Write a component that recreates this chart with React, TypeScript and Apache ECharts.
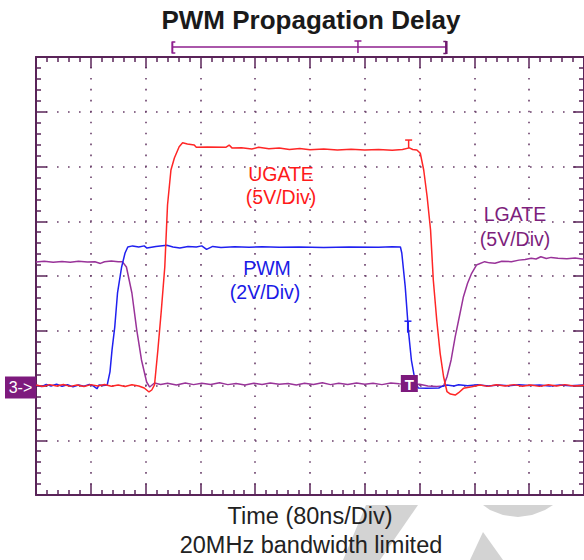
import React, { useEffect, useRef } from "react";
import * as echarts from "echarts";

// ---- Scope settings ----
const TIME_MIN_NS = 0;
const TIME_MAX_NS = 800; // 10 div x 80ns
const TIME_DIV_NS = 80;
const DIV_COUNT = 8;
const GROUND_DIV = 2; // channel ground marker "3->"

const PWM_V_PER_DIV = 2;
const UGATE_V_PER_DIV = 5;
const LGATE_V_PER_DIV = 5;

// ---- Traces: [time ns, volts] ----
const pwmData: [number, number][] = [
  [0, 0.02], [8, -0.04], [15, 0.04], [22, -0.02], [30, 0.05], [38, -0.03], [46, 0.03], [54, -0.05],
  [62, 0.02], [70, -0.03], [78, 0.04], [84, -0.02], [89, -0.12], [92, 0.02], [98, 0.0], [104, 0.02],
  [108, 0.5], [111, 1.3], [115, 2.14], [119, 3.38], [125, 4.33], [130, 4.84], [134, 5.06], [141, 5.1],
  [150, 5.06], [158, 5.1], [162, 5.02], [175, 5.08], [191, 5.12], [200, 5.06], [210, 5.02], [222, 5.08],
  [234, 5.06], [242, 5.1], [249, 4.97], [258, 5.08], [270, 5.04], [290, 5.07], [311, 5.05], [330, 5.07],
  [355, 5.05], [384, 5.06], [420, 5.04], [457, 5.06], [500, 5.05], [520, 5.07], [532, 5.06], [534, 4.84],
  [539, 3.61], [544, 1.92], [548, 0.93], [554, 0.09], [558, -0.09], [570, -0.1], [588, -0.09], [592, -0.04],
  [600, 0.02], [610, -0.02], [617, 0.03], [630, -0.01], [645, 0.03], [660, -0.02], [675, 0.02], [690, -0.01],
  [705, 0.03], [720, 0], [735, 0.02], [750, -0.02], [765, 0.02], [780, -0.01], [800, 0.02],
];

const ugateData: [number, number][] = [
  [0, 0.05], [10, -0.1], [20, 0.08], [30, -0.05], [40, 0.1], [50, -0.08], [60, 0.05], [70, -0.1],
  [80, 0.08], [90, -0.05], [100, 0.1], [110, -0.06], [120, 0.05], [130, -0.1], [140, 0.06], [150, -0.05],
  [158, -0.23], [165, -0.59], [169, -0.41], [173, 0.05], [178, 3.29], [183, 6.89], [188, 10.82], [192, 16.48],
  [197, 19.68], [202, 20.78], [209, 21.81], [214, 22.17], [221, 22.05], [231, 21.96], [234, 21.75], [250, 21.78],
  [277, 21.75], [282, 21.96], [286, 21.7], [300, 21.72], [315, 21.6], [325, 21.75], [340, 21.62], [355, 21.7],
  [370, 21.55], [385, 21.65], [400, 21.52], [420, 21.6], [440, 21.5], [460, 21.58], [480, 21.5], [500, 21.55],
  [520, 21.48], [535, 21.55], [545, 21.7], [550, 21.55], [556, 21.51], [561, 21.21], [566, 19.68], [571, 17.24],
  [576, 14.2], [580, 9.63], [585, 5.98], [590, 2.94], [595, 0.8], [600, -0.57], [605, -0.78], [612, -0.87],
  [617, -0.66], [624, -0.26], [636, -0.11], [648, 0.05], [660, -0.08], [672, 0.06], [685, -0.05], [698, 0.08],
  [710, -0.06], [722, 0.05], [735, -0.08], [748, 0.06], [760, -0.05], [772, 0.08], [785, -0.05], [800, 0.03],
];

const lgateData: [number, number][] = [
  [0, 11.28], [12, 11.35], [25, 11.25], [38, 11.32], [50, 11.26], [62, 11.34], [75, 11.27], [86, 11.3],
  [94, 11.15], [100, 11.3], [110, 11.36], [120, 11.3], [126, 11.31], [132, 10.82], [140, 8.45], [147, 5.11],
  [154, 2.33], [161.5, 0.32], [166, -0.14], [173, 0.23], [182, 0.1], [192, 0.2], [205, 0.05], [218, 0.22],
  [230, 0.08], [242, 0.2], [255, 0.1], [268, 0.25], [280, 0.08], [292, 0.18], [305, 0.05], [318, 0.2],
  [330, 0.1], [342, 0.22], [355, 0.12], [368, 0.18], [380, 0.05], [392, 0.2], [405, 0.1], [418, 0.25],
  [430, 0.08], [442, 0.2], [455, 0.1], [468, 0.22], [480, 0.12], [492, 0.2], [505, 0.08], [518, 0.22],
  [530, 0.15], [545, 0.1], [560, 0.12], [572, -0.05], [585, -0.08], [595, -0.04], [600, 0.8], [606, 2.33],
  [612, 4.46], [618, 6.28], [624, 8.11], [630, 9.33], [636, 10.25], [643, 11.0], [655, 11.31], [662, 11.2],
  [670, 11.16], [680, 11.35], [694, 11.31], [705, 11.45], [714, 11.5], [723, 11.62], [730, 11.55], [737, 11.76],
  [745, 11.6], [752, 11.7], [762, 11.62], [775, 11.58], [787, 11.65], [800, 11.53],
];

// cursor / marker times (ns)
const recordBracketTimes = [199, 470, 599]; // "[" , "T", "]"
const triggerTimeNs = 545;
const ugateCursorTimeNs = 544;
const pwmCursorTimeNs = 543;

// ---- Texts ----
const titleText = "PWM Propagation Delay";
const xTitleText = "Time (80ns/Div)";
const noteText = "20MHz bandwidth limited";
const ugateLabel = ["UGATE", "(5V/Div)"];
const pwmLabel = ["PWM", "(2V/Div)"];
const lgateLabel = ["LGATE", "(5V/Div)"];
const groundMarkerText = "3->";

const RED = "#ff2626";
const BLUE = "#2020f0";
const PURPLE = "#993399";
const MARK_PURPLE = "#7d1a7d";
const AXIS = "#5a2459";
const DOT = "#6a3f6a";
const FONT = "'Liberation Sans', Arial, Helvetica, sans-serif";

const toDiv = (pts: [number, number][], vpd: number) => pts.map(([t, v]) => [t, GROUND_DIV + v / vpd]);

function valueAt(pts: [number, number][], t: number) {
  for (let i = 1; i < pts.length; i++) {
    if (pts[i][0] >= t) {
      const [t0, v0] = pts[i - 1];
      const [t1, v1] = pts[i];
      return v0 + ((v1 - v0) * (t - t0)) / (t1 - t0);
    }
  }
  return pts[pts.length - 1][1];
}

const baseAxis = {
  type: "value" as const,
  axisLabel: { show: false },
  axisLine: { show: true, onZero: false, lineStyle: { color: AXIS, width: 2 } },
  axisTick: { show: true, inside: true, length: 11, lineStyle: { color: AXIS, width: 1.5 } },
  minorTick: { show: true, splitNumber: 5, length: 5, lineStyle: { color: AXIS, width: 1.5 } },
  splitLine: { show: false },
};

export default function App() {
  const ref = useRef<HTMLDivElement>(null);
  useEffect(() => {
    document.body.style.margin = "0";
    const chart = echarts.init(ref.current!, null, { renderer: "svg" });
    const xAxisBase = { ...baseAxis, min: TIME_MIN_NS, max: TIME_MAX_NS, interval: TIME_DIV_NS };
    const yAxisBase = { ...baseAxis, min: 0, max: DIV_COUNT, interval: 1 };
    chart.setOption({
      animation: false,
      textStyle: { fontFamily: FONT },
      grid: { left: 36, top: 57, width: 550, height: 438, containLabel: false },
      xAxis: [
        {
          ...xAxisBase,
          position: "bottom",
          splitLine: { show: true, lineStyle: { color: DOT, width: 1.6, type: [1.6, 9.35], dashOffset: 0.8 } },
        },
        { ...xAxisBase, position: "top" },
      ],
      yAxis: [
        {
          ...yAxisBase,
          position: "left",
          splitLine: { show: true, lineStyle: { color: DOT, width: 1.6, type: [1.6, 9.4], dashOffset: 0.8 } },
        },
        { ...yAxisBase, position: "right" },
      ],
      series: [
        {
          type: "line", name: "LGATE", data: toDiv(lgateData, LGATE_V_PER_DIV), showSymbol: false, symbol: "none",
          lineStyle: { color: PURPLE, width: 1.5 }, itemStyle: { color: PURPLE }, silent: true, z: 2,
        },
        {
          type: "line", name: "PWM", data: toDiv(pwmData, PWM_V_PER_DIV), showSymbol: false, symbol: "none",
          lineStyle: { color: BLUE, width: 1.5 }, itemStyle: { color: BLUE }, silent: true, z: 3,
        },
        {
          type: "line", name: "UGATE", data: toDiv(ugateData, UGATE_V_PER_DIV), showSymbol: false, symbol: "none",
          lineStyle: { color: RED, width: 1.5 }, itemStyle: { color: RED }, silent: true, z: 4,
        },
      ],
    });

    const px = (t: number, d: number) => chart.convertToPixel({ seriesIndex: 0 }, [t, d]) as number[];
    const groundY = px(0, GROUND_DIV)[1];
    const [bL, bT, bR] = recordBracketTimes.map((t) => px(t, 0)[0]);
    const trigX = px(triggerTimeNs, 0)[0];
    const redC = px(ugateCursorTimeNs, GROUND_DIV + valueAt(ugateData, ugateCursorTimeNs) / UGATE_V_PER_DIV);
    const blueC = px(pwmCursorTimeNs, GROUND_DIV + valueAt(pwmData, pwmCursorTimeNs) / PWM_V_PER_DIV);

    const ln = (x1: number, y1: number, x2: number, y2: number, stroke: string, w = 1.5, z = 20) => ({
      type: "line", z, shape: { x1, y1, x2, y2 }, style: { stroke, lineWidth: w }, silent: true,
    });
    const txt = (x: number, y: number, text: string, size: number, fill: string, weight = "normal", z = 20) => ({
      type: "text", z, x, y, silent: true,
      style: { text, fontSize: size, fontFamily: FONT, fontWeight: weight, fill, align: "center", verticalAlign: "middle" },
    });
    const WM = "#d3d3d3";
    const graphics: any[] = [
      // watermark fragments
      { type: "polygon", z: 0, silent: true, shape: { points: [[366, 505], [418, 505], [380, 560], [343, 560]] }, style: { fill: WM } },
      { type: "polygon", z: 0, silent: true, shape: { points: [[483, 505], [553, 505], [545, 510], [532, 515], [518, 517], [503, 515], [490, 510]] }, style: { fill: WM } },
      { type: "polygon", z: 0, silent: true, shape: { points: [[483, 532], [503, 560], [470, 560]] }, style: { fill: WM } },
      // titles
      txt(311, 20, titleText, 26, "#1a1a1a", "bold"),
      txt(310, 516, xTitleText, 23.5, "#222222"),
      txt(311, 545, noteText, 23.5, "#222222"),
      // trace labels
      txt(281, 174, ugateLabel[0], 19.5, "#ff1a1a"),
      txt(281, 197, ugateLabel[1], 19.5, "#ff1a1a"),
      txt(267, 268, pwmLabel[0], 19.5, "#1a1ae6"),
      txt(265, 292, pwmLabel[1], 19.5, "#1a1ae6"),
      txt(515, 214, lgateLabel[0], 19.5, "#7d1f7d"),
      txt(515, 239, lgateLabel[1], 19.5, "#7d1f7d"),
      // record bracket
      ln(bL, 47, bR, 47, "#8e1f8e", 1.5),
      ln(bL, 41.5, bL, 53.5, "#8e1f8e", 2),
      ln(bL, 42, bL + 3, 42, "#8e1f8e", 1.5),
      ln(bL, 53, bL + 3, 53, "#8e1f8e", 1.5),
      ln(bR, 41, bR, 54, "#6e1a6e", 2.5),
      ln(bR - 3, 41.5, bR, 41.5, "#6e1a6e", 1.5),
      ln(bR - 3, 53.5, bR, 53.5, "#6e1a6e", 1.5),
      ln(bT - 3.5, 41, bT + 3.5, 41, "#8e1f8e", 1.5),
      ln(bT, 41, bT, 53, "#8e1f8e", 1.5),
      // cursor T on UGATE
      ln(redC[0] - 3.5, redC[1] - 8, redC[0] + 3.5, redC[1] - 8, RED, 1.5),
      ln(redC[0], redC[1] - 8, redC[0], redC[1], RED, 1.5),
      // cursor T on PWM
      ln(blueC[0] - 3.5, blueC[1] - 2.5, blueC[0] + 3.5, blueC[1] - 2.5, BLUE, 1.5),
      ln(blueC[0], blueC[1] - 2.5, blueC[0], blueC[1] + 9, BLUE, 2),
      // trigger square
      { type: "rect", z: 21, silent: true, shape: { x: trigX - 8.5, y: groundY - 10.5, width: 17, height: 17 }, style: { fill: MARK_PURPLE } },
      txt(trigX, groundY - 1.5, "T", 15, "#ffffff", "bold", 22),
      // ground marker
      { type: "rect", z: 21, silent: true, shape: { x: 5, y: groundY - 9, width: 31, height: 22 }, style: { fill: MARK_PURPLE } },
      txt(20.5, groundY + 1.5, groundMarkerText, 16, "#ffffff", "normal", 22),
    ];
    chart.setOption({ graphic: graphics });
    return () => chart.dispose();
  }, []);
  return <div ref={ref} style={{ width: 584, height: 560 }} />;
}
